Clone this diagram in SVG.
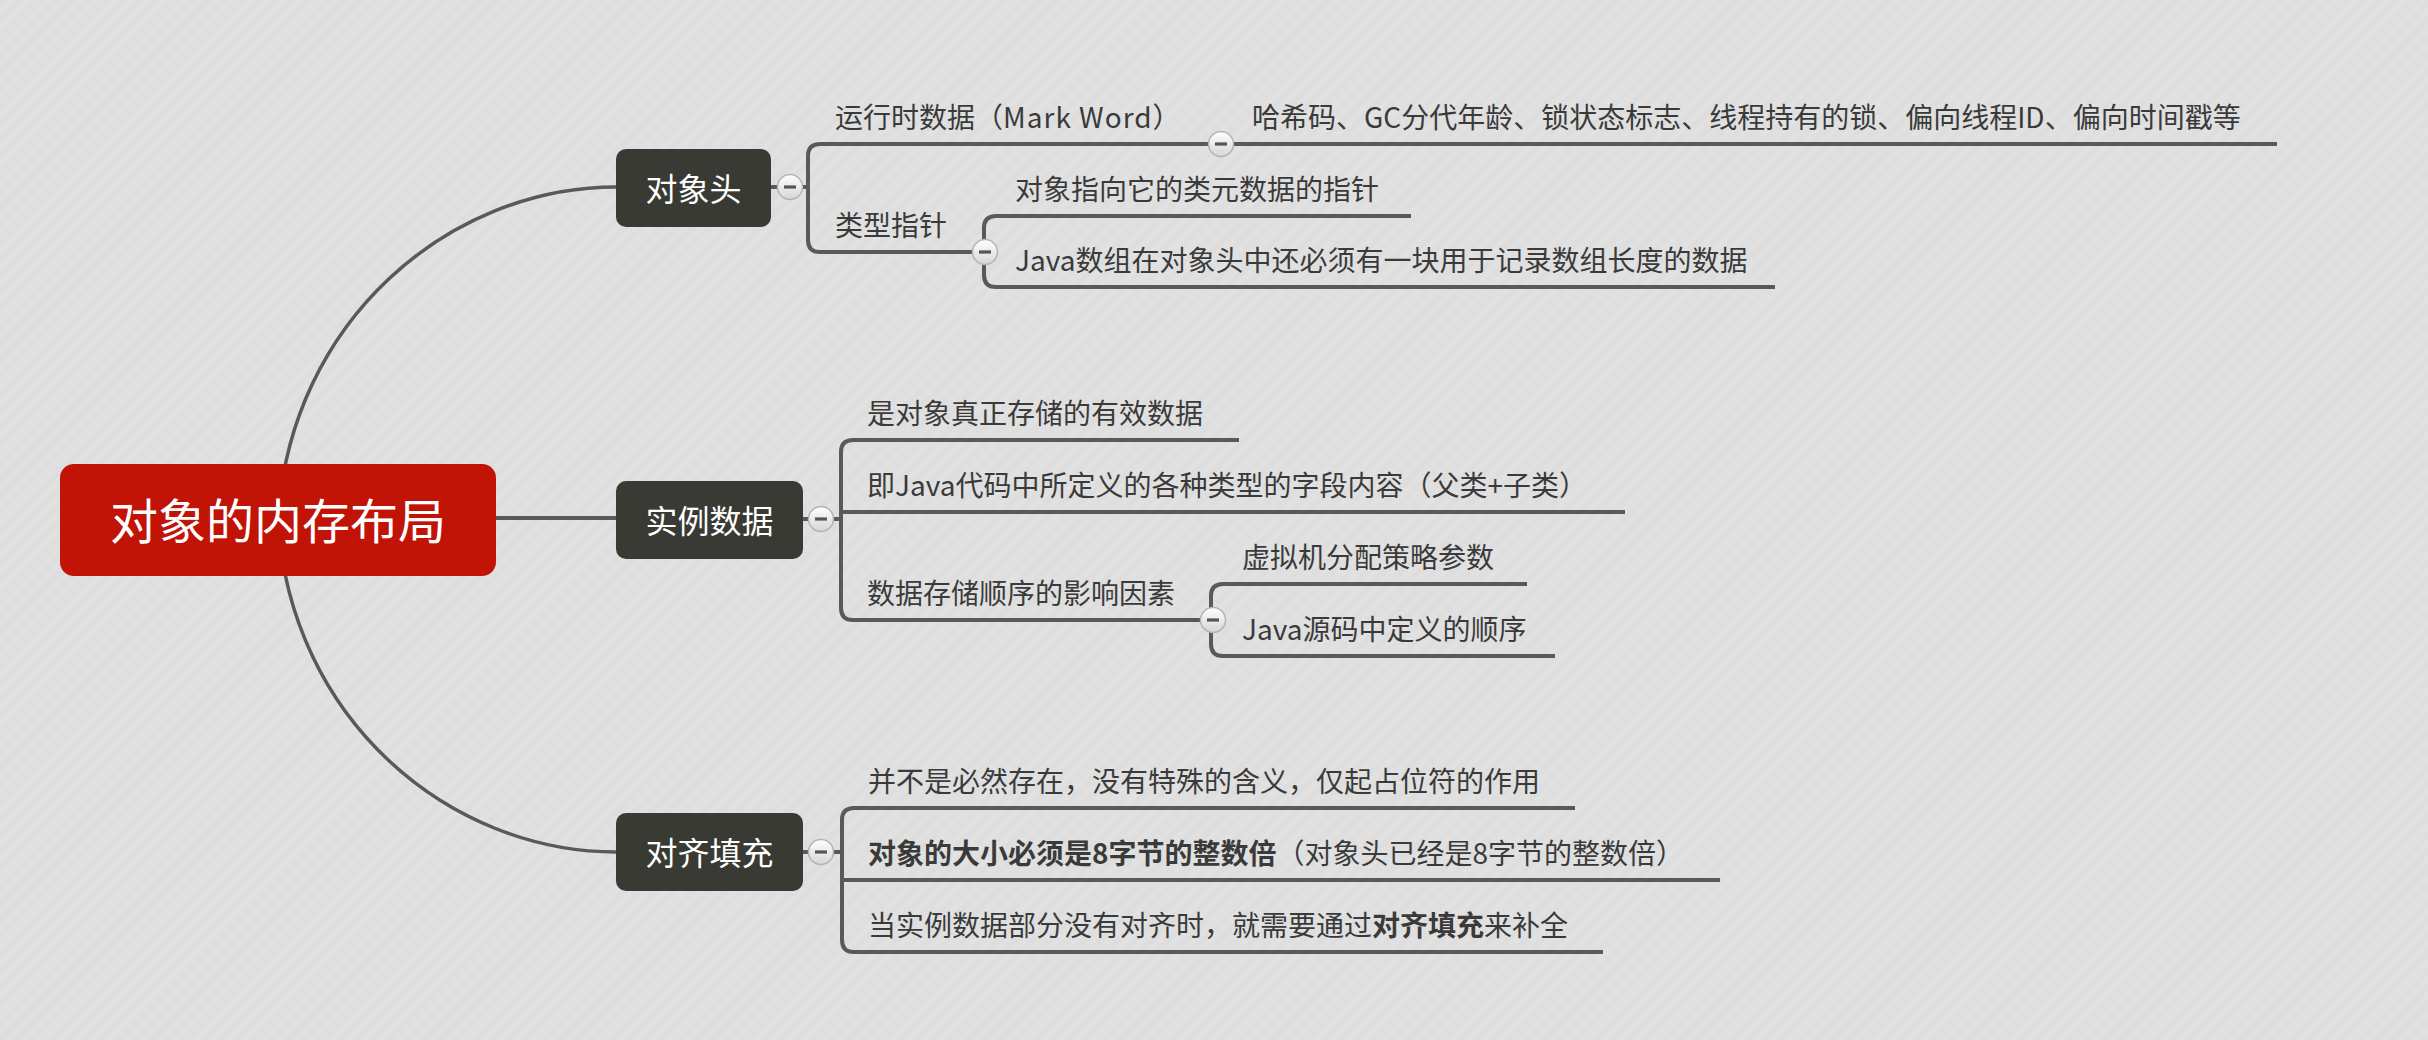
<svg xmlns="http://www.w3.org/2000/svg" width="2428" height="1040" viewBox="0 0 2428 1040">
<style>
.conn{fill:none;stroke:#595959;stroke-width:4;stroke-linecap:butt;stroke-linejoin:round}
.curve{fill:none;stroke:#595959;stroke-width:3.5}
.t{font-family:"Noto Sans CJK SC","Noto Sans",sans-serif;font-size:28px;fill:#3a3a3a}
.b{font-weight:bold}
.bl{font-family:"Noto Sans CJK SC","Noto Sans",sans-serif;font-size:32px;fill:#ffffff;text-anchor:middle}
.rl{font-family:"Noto Sans CJK SC","Noto Sans",sans-serif;font-size:48px;fill:#ffffff;text-anchor:middle}
.box{fill:#3a3a34}
</style>
<defs>
<pattern id="bg" width="12" height="12" patternUnits="userSpaceOnUse" patternTransform="rotate(45)">
<rect width="12" height="12" fill="#e1e1e1"/>
<rect width="6" height="12" fill="#dedede"/>
</pattern>
<linearGradient id="btnGrad" x1="0" y1="0" x2="0" y2="1">
<stop offset="0" stop-color="#ffffff"/>
<stop offset="1" stop-color="#d6d6d6"/>
</linearGradient>
<g id="btn">
<circle r="12.5" fill="url(#btnGrad)" stroke="#b3b3b3" stroke-width="1.5"/>
<rect x="-6" y="-1.6" width="12" height="3.2" fill="#555555"/>
</g>
</defs>
<rect width="2428" height="1040" fill="url(#bg)"/>

<g id="connectors">
<path class="curve" d="M278,520 C290,320 450,187 616,187"/>
<path class="curve" d="M278,520 C290,720 450,852 616,852"/>
<path class="conn" d="M496,518 H616"/>
<!-- 对象头 -->
<path class="conn" d="M771,187 H808"/>
<path class="conn" d="M2277,144 H820 Q808,144 808,156 V240 Q808,252 820,252 H985"/>
<path class="conn" d="M1411,216 H996 Q984,216 984,228 V275 Q984,287 996,287 H1775"/>
<!-- 实例数据 -->
<path class="conn" d="M803,519 H841"/>
<path class="conn" d="M1239,440 H853 Q841,440 841,452 V608 Q841,620 853,620 H1213"/>
<path class="conn" d="M841,512 H1625"/>
<path class="conn" d="M1527,584 H1223 Q1211,584 1211,596 V644 Q1211,656 1223,656 H1555"/>
<!-- 对齐填充 -->
<path class="conn" d="M803,852 H842"/>
<path class="conn" d="M1575,808 H854 Q842,808 842,820 V940 Q842,952 854,952 H1603"/>
<path class="conn" d="M842,880 H1720"/>
</g>

<g id="collapse-buttons">
<use href="#btn" x="790" y="187"/>
<use href="#btn" x="1221" y="144"/>
<use href="#btn" x="985" y="252"/>
<use href="#btn" x="821" y="519"/>
<use href="#btn" x="1213" y="620"/>
<use href="#btn" x="821" y="852"/>
</g>

<g id="root">
<rect x="60" y="464" width="436" height="112" rx="14" fill="#c11306"/>
<text class="rl" x="278" y="539">对象的内存布局</text>
</g>

<g id="n-header">
<rect class="box" x="616" y="149" width="155" height="78" rx="10"/>
<text class="bl" x="693.5" y="201">对象头</text>
</g>
<g id="n-instance">
<rect class="box" x="616" y="481" width="187" height="78" rx="10"/>
<text class="bl" x="709.5" y="533">实例数据</text>
</g>
<g id="n-padding">
<rect class="box" x="616" y="813" width="187" height="78" rx="10"/>
<text class="bl" x="709.5" y="865">对齐填充</text>
</g>

<g id="n-markword"><text class="t" x="835" y="128">运行时数据（<tspan letter-spacing="1">Mark Word</tspan>）</text></g>
<g id="n-markword-detail"><text class="t" x="1252" y="128">哈希码、GC分代年龄、锁状态标志、线程持有的锁、偏向线程ID、偏向时间戳等</text></g>
<g id="n-klass"><text class="t" x="835" y="236">类型指针</text></g>
<g id="n-klass-1"><text class="t" x="1015" y="200">对象指向它的类元数据的指针</text></g>
<g id="n-klass-2"><text class="t" x="1015" y="271">Java数组在对象头中还必须有一块用于记录数组长度的数据</text></g>

<g id="n-inst-1"><text class="t" x="867" y="424">是对象真正存储的有效数据</text></g>
<g id="n-inst-2"><text class="t" x="867" y="496">即Java代码中所定义的各种类型的字段内容（父类+子类）</text></g>
<g id="n-inst-3"><text class="t" x="867" y="604">数据存储顺序的影响因素</text></g>
<g id="n-inst-3-1"><text class="t" x="1242" y="568">虚拟机分配策略参数</text></g>
<g id="n-inst-3-2"><text class="t" x="1242" y="640">Java源码中定义的顺序</text></g>

<g id="n-pad-1"><text class="t" x="868" y="792">并不是必然存在，没有特殊的含义，仅起占位符的作用</text></g>
<g id="n-pad-2"><text class="t" x="868" y="864"><tspan class="b">对象的大小必须是8字节的整数倍</tspan>（对象头已经是8字节的整数倍）</text></g>
<g id="n-pad-3"><text class="t" x="868" y="936">当实例数据部分没有对齐时，就需要通过<tspan class="b">对齐填充</tspan>来补全</text></g>
</svg>
